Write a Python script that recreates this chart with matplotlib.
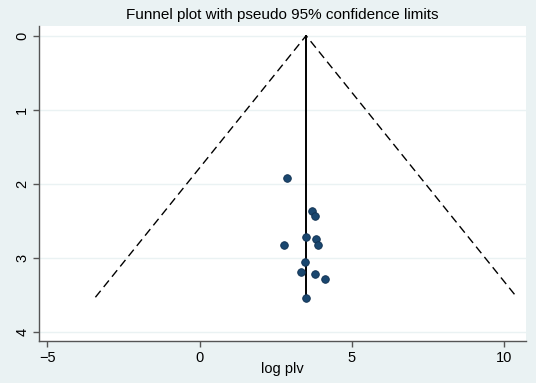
import matplotlib.pyplot as plt

# study estimates (log plv) and their standard errors
log_plv = [2.87, 3.69, 3.79, 3.51, 3.82, 3.90, 2.79, 3.45, 3.34, 3.78, 4.11, 3.51]
se = [1.92, 2.36, 2.43, 2.72, 2.75, 2.83, 2.82, 3.05, 3.19, 3.22, 3.28, 3.54]

pooled = 3.50
se_max = 3.53
z = 1.96

x_ticks = [-5, 0, 5, 10]
y_ticks = [0, 1, 2, 3, 4]

BG = "#eaf2f3"
NAVY = "#1a476f"

plt.rcParams["font.family"] = ["Liberation Sans", "DejaVu Sans"]

fig = plt.figure(figsize=(5.36, 3.83), dpi=100, facecolor=BG)
ax = fig.add_axes([0.0728, 0.1097, 0.908, 0.8224])
ax.set_facecolor("white")

# pseudo 95% confidence limits
ax.plot([pooled - z * se_max, pooled, pooled + z * se_max], [se_max, 0, se_max],
        color="black", linestyle=(0, (6, 3.5)), linewidth=1.0, zorder=3)
ax.plot([pooled, pooled], [0, se_max], color="black", linewidth=1.4, zorder=3)

ax.scatter(log_plv, se, s=30, color=NAVY, edgecolor="#0f2f4f", linewidth=0.6, zorder=4)

ax.set_xlim(-5.27, 10.71)
ax.set_ylim(4.12, -0.13)
ax.set_xticks(x_ticks)
ax.set_yticks(y_ticks)
ax.set_yticklabels([str(t) for t in y_ticks], rotation=90, va="center")
ax.grid(axis="y", color=BG, linewidth=1.0)
ax.set_axisbelow(True)

for side in ["top", "right"]:
    ax.spines[side].set_visible(False)
for side in ["left", "bottom"]:
    ax.spines[side].set_color("#555555")
    ax.spines[side].set_linewidth(1.0)
ax.tick_params(colors="#555555", labelcolor="black", labelsize=10.5, length=4, width=1.0, pad=3)

ax.set_xlabel("log plv", fontsize=10.5, labelpad=-2)
ax.set_title("Funnel plot with pseudo 95% confidence limits", fontsize=11, pad=5)

fig.savefig("out.png", dpi=100, facecolor=BG)
